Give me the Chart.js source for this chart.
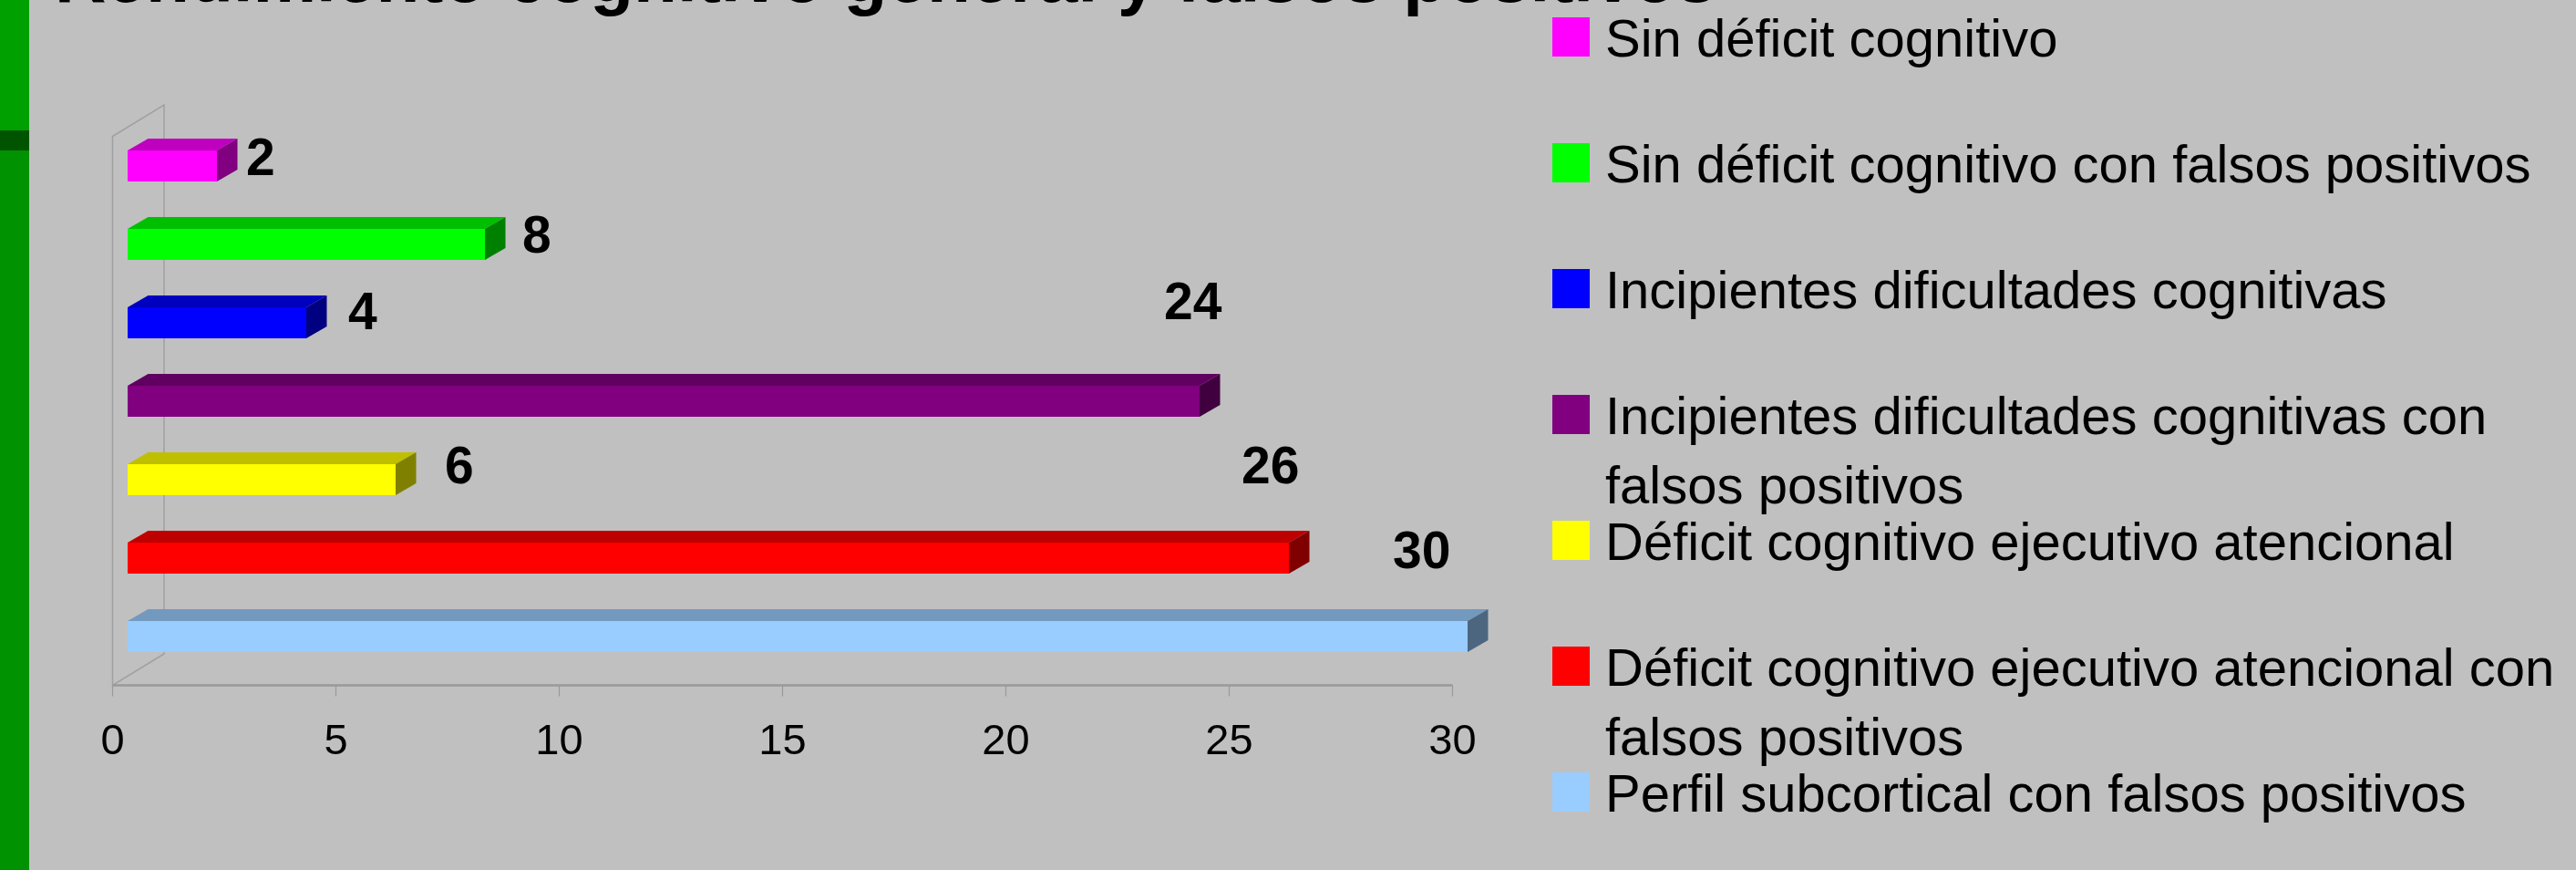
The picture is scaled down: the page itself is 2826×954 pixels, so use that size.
<!DOCTYPE html>
<html lang="es">
<head>
<meta charset="utf-8">
<title>Rendimiento cognitivo general y falsos positivos</title>
<script src="https://cdn.jsdelivr.net/npm/chart.js@4.4.1/dist/chart.umd.min.js"></script>
<style>
  html, body { margin: 0; padding: 0; background: #c0c0c0; overflow: hidden; }
  canvas { display: block; }
</style>
</head>
<body>
<canvas id="grafico" width="2826" height="954"></canvas>
<script>
/* =========================
   DATOS
========================= */

const titulo = "Rendimiento cognitivo general y falsos positivos";

const categorias = [
  "Sin déficit cognitivo",
  "Sin déficit cognitivo con falsos positivos",
  "Incipientes dificultades cognitivas",
  "Incipientes dificultades cognitivas con falsos positivos",
  "Déficit cognitivo ejecutivo atencional",
  "Déficit cognitivo ejecutivo atencional con falsos positivos",
  "Perfil subcortical con falsos positivos"
];

const valores = [2, 8, 4, 24, 6, 26, 30];

const colores = ["#ff00ff", "#00ff00", "#0000ff", "#800080", "#ffff00", "#ff0000", "#99ccff"];

const ticksEje = [0, 5, 10, 15, 20, 25, 30];

/* =========================
   AJUSTES DEL DIBUJO 3D
========================= */

const FUENTE = "'Liberation Sans', Arial, sans-serif";
const FRENTE = { dx: -16.5, dy: 10.5 };   // plano del eje respecto a las barras
const FONDO = { dx: 40, dy: -24 };        // pared del fondo
const PROF_BARRA = { dx: 22.5, dy: -13 }; // grosor de cada barra

// En el original las etiquetas se movieron a mano: desplazamiento
// respecto al extremo de cada barra (borde izquierdo del texto, centro)
const desplazEtiquetas = [
  [32, -5.5], [41, -7], [46, -9], [-39, -105.5], [54, -12], [-52, -97.5], [-82, -90.5]
];

function sombra(hex, f) {
  const n = parseInt(hex.slice(1), 16);
  const r = Math.round(((n >> 16) & 255) * f);
  const g = Math.round(((n >> 8) & 255) * f);
  const b = Math.round((n & 255) * f);
  return `rgb(${r},${g},${b})`;
}

function partirTexto(ctx, texto, maxAncho) {
  const palabras = texto.split(" ");
  const lineas = [];
  let actual = "";
  palabras.forEach(p => {
    const prueba = actual ? actual + " " + p : p;
    if (ctx.measureText(prueba).width > maxAncho && actual) {
      lineas.push(actual);
      actual = p;
    } else {
      actual = prueba;
    }
  });
  if (actual) lineas.push(actual);
  return lineas;
}

/* =========================
   PLUGINS
========================= */

const fondoPlugin = {
  id: "fondo",
  beforeDraw(chart) {
    const ctx = chart.ctx;
    ctx.save();
    ctx.fillStyle = "#c0c0c0";
    ctx.fillRect(0, 0, chart.width, chart.height);
    // franja verde de la diapositiva
    ctx.fillStyle = "#00a000";
    ctx.fillRect(0, 0, 32, 143);
    ctx.fillStyle = "#005400";
    ctx.fillRect(0, 143, 32, 22);
    ctx.fillStyle = "#009200";
    ctx.fillRect(0, 165, 32, chart.height - 165);
    ctx.restore();
  }
};

const paredesPlugin = {
  id: "paredes",
  beforeDatasetsDraw(chart) {
    const ctx = chart.ctx;
    const { left, top, bottom } = chart.chartArea;
    const ex = chart.scales.x;
    const fx = left + FRENTE.dx, fyT = top + FRENTE.dy, fyB = bottom + FRENTE.dy;
    const bx = left + FONDO.dx, byT = top + FONDO.dy, byB = bottom + FONDO.dy;

    ctx.save();
    ctx.strokeStyle = "#a0a0a0";
    ctx.lineWidth = 1.5;
    ctx.beginPath();
    ctx.moveTo(fx, fyB);
    ctx.lineTo(fx, fyT);
    ctx.lineTo(bx, byT);
    ctx.lineTo(bx, byB);
    ctx.closePath();
    ctx.stroke();

    // eje del suelo y marcas
    const xFin = ex.getPixelForValue(ticksEje[ticksEje.length - 1]) + FRENTE.dx;
    ctx.strokeStyle = "#999999";
    ctx.lineWidth = 2.5;
    ctx.beginPath();
    ctx.moveTo(fx, fyB);
    ctx.lineTo(xFin, fyB);
    ctx.stroke();

    ctx.lineWidth = 1.2;
    ctx.beginPath();
    ticksEje.forEach(v => {
      const px = ex.getPixelForValue(v) + FRENTE.dx;
      ctx.moveTo(px, fyB);
      ctx.lineTo(px, fyB + 12);
    });
    ctx.stroke();
    ctx.restore();
  }
};

const caras3dPlugin = {
  id: "caras3d",
  afterDatasetsDraw(chart) {
    const ctx = chart.ctx;
    const meta = chart.getDatasetMeta(0);
    const d = PROF_BARRA;

    ctx.save();
    meta.data.forEach((el, i) => {
      const { x, y, base, height } = el.getProps(["x", "y", "base", "height"], true);
      const yT = y - height / 2, yB = y + height / 2;
      const col = colores[i];

      // cara superior
      ctx.fillStyle = sombra(col, 0.75);
      ctx.beginPath();
      ctx.moveTo(base, yT);
      ctx.lineTo(base + d.dx, yT + d.dy);
      ctx.lineTo(x + d.dx, yT + d.dy);
      ctx.lineTo(x, yT);
      ctx.closePath();
      ctx.fill();

      // cara lateral
      ctx.fillStyle = sombra(col, 0.5);
      ctx.beginPath();
      ctx.moveTo(x, yT);
      ctx.lineTo(x + d.dx, yT + d.dy);
      ctx.lineTo(x + d.dx, yB + d.dy);
      ctx.lineTo(x, yB);
      ctx.closePath();
      ctx.fill();
    });

    // etiquetas de valor
    ctx.fillStyle = "#000";
    ctx.font = `bold 57px ${FUENTE}`;
    ctx.textBaseline = "middle";
    ctx.textAlign = "left";
    meta.data.forEach((el, i) => {
      const { x, y } = el.getProps(["x", "y"], true);
      const [dx, dy] = desplazEtiquetas[i];
      ctx.fillText(valores[i], x + dx, y + dy);
    });
    ctx.restore();
  }
};

const leyendaPlugin = {
  id: "leyendaLateral",
  afterDraw(chart) {
    const ctx = chart.ctx;
    const xCaja = 1703, xTexto = 1761;
    const paso = 138, altoCaja = 43, anchoCaja = 41, interlinea = 76;

    ctx.save();
    ctx.font = `58px ${FUENTE}`;
    ctx.textAlign = "left";
    ctx.textBaseline = "alphabetic";
    categorias.forEach((cat, i) => {
      const yCaja = 19 + paso * i;
      ctx.fillStyle = colores[i];
      ctx.fillRect(xCaja, yCaja, anchoCaja, altoCaja);
      ctx.fillStyle = "#000";
      const lineas = partirTexto(ctx, cat, chart.width - xTexto - 4);
      lineas.forEach((l, j) => {
        ctx.fillText(l, xTexto, yCaja + altoCaja + j * interlinea);
      });
    });

    // título (queda cortado por el borde superior)
    let tam = 66;
    ctx.font = `bold ${tam}px ${FUENTE}`;
    tam = tam * 1823 / ctx.measureText(titulo).width;
    ctx.font = `bold ${tam}px ${FUENTE}`;
    ctx.fillText(titulo, 60, 2);
    ctx.restore();
  }
};

/* =========================
   GRÁFICO
========================= */

new Chart(document.getElementById("grafico"), {
  type: "bar",
  data: {
    labels: categorias,
    datasets: [{
      data: valores,
      backgroundColor: colores,
      borderWidth: 0,
      categoryPercentage: 1,
      barPercentage: 34 / 86
    }]
  },
  options: {
    indexAxis: "y",
    responsive: false,
    animation: false,
    devicePixelRatio: 1,
    layout: { padding: { left: 140, right: 2826 - 1610, top: 139, bottom: 0 } },
    plugins: {
      legend: { display: false },
      tooltip: { enabled: false }
    },
    scales: {
      y: { display: false },
      x: {
        min: ticksEje[0],
        max: ticksEje[ticksEje.length - 1],
        afterBuildTicks(scale) {
          scale.ticks = ticksEje.map(v => ({ value: v }));
        },
        afterFit(scale) {
          scale.height = 213;
        },
        grid: { display: false, drawTicks: false },
        border: { display: false },
        ticks: {
          color: "#000",
          font: { family: FUENTE, size: 47 },
          padding: 45,
          labelOffset: FRENTE.dx,
          maxRotation: 0,
          autoSkip: false
        }
      }
    }
  },
  plugins: [fondoPlugin, paredesPlugin, caras3dPlugin, leyendaPlugin]
});
</script>
</body>
</html>
